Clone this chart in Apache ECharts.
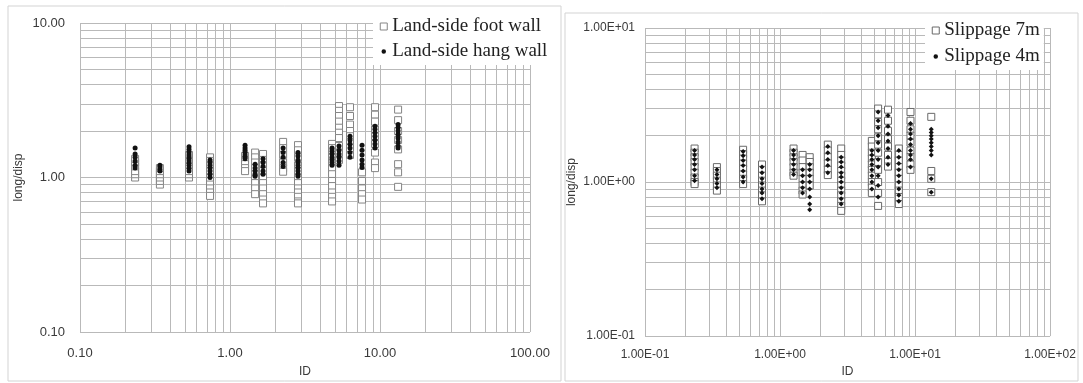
<!DOCTYPE html>
<html>
<head>
<meta charset="utf-8">
<title>long/disp vs ID</title>
<script src="https://cdn.jsdelivr.net/npm/echarts@6/dist/echarts.min.js"></script>
<style>
  html, body { margin: 0; padding: 0; background: #fff; }
  #chart { width: 1083px; height: 383px; }
</style>
</head>
<body>
<div id="chart"></div>
<script>
// ID positions shared by every series (one column of points per ID)
const idColumns = [0.233, 0.341, 0.533, 0.736, 1.26, 1.47, 1.66, 2.26, 2.84, 4.79, 5.33, 6.31, 7.59, 9.26, 13.2];

// long/disp values per column — left panel
const footWallRatios = [
  [1.00, 1.05, 1.10, 1.18, 1.25, 1.32],
  [0.90, 0.95, 1.00, 1.05, 1.10, 1.15],
  [1.00, 1.05, 1.10, 1.20, 1.30, 1.40],
  [1.35, 1.28, 1.20, 1.10, 1.00, 0.95, 0.90, 0.85, 0.80, 0.76],
  [1.38, 1.30, 1.22, 1.15, 1.10],
  [1.45, 1.35, 1.25, 1.15, 1.05, 0.98, 0.92, 0.85, 0.78],
  [1.42, 1.30, 1.20, 1.10, 1.00, 0.92, 0.85, 0.78, 0.72, 0.68],
  [1.70, 1.55, 1.40, 1.25, 1.15, 1.09],
  [1.62, 1.50, 1.35, 1.20, 1.10, 1.00, 0.92, 0.85, 0.80, 0.75, 0.70, 0.68],
  [1.65, 1.55, 1.45, 1.35, 1.25, 1.15, 1.05, 0.95, 0.88, 0.80, 0.75, 0.70],
  [2.90, 2.70, 2.50, 2.30, 2.10, 1.95, 1.80, 1.60, 1.45, 1.30],
  [2.85, 2.50, 2.20, 2.00, 1.85, 1.70, 1.55, 1.40],
  [1.08, 0.95, 0.85, 0.78, 0.72],
  [2.85, 2.55, 2.30, 2.05, 1.85, 1.65, 1.45, 1.25, 1.15],
  [2.75, 2.35, 2.00, 1.75, 1.52, 1.22, 1.08, 0.87]
];
const hangWallRatios = [
  [1.55, 1.42, 1.35, 1.28, 1.20, 1.15],
  [1.20, 1.17, 1.13, 1.10],
  [1.58, 1.52, 1.45, 1.40, 1.35, 1.30, 1.25, 1.20, 1.15, 1.10],
  [1.30, 1.25, 1.20, 1.15, 1.10, 1.05, 1.00],
  [1.62, 1.55, 1.50, 1.45, 1.40, 1.35, 1.32],
  [1.22, 1.15, 1.10, 1.05, 1.02],
  [1.32, 1.25, 1.18, 1.10, 1.05],
  [1.55, 1.45, 1.35, 1.25, 1.18],
  [1.45, 1.38, 1.30, 1.25, 1.20, 1.15, 1.10, 1.05, 1.02],
  [1.55, 1.48, 1.42, 1.35, 1.30, 1.25, 1.20],
  [1.60, 1.50, 1.42, 1.35, 1.28, 1.20],
  [1.85, 1.75, 1.65, 1.55, 1.45, 1.35],
  [1.62, 1.50, 1.40, 1.30, 1.22, 1.16],
  [2.15, 2.05, 1.95, 1.85, 1.75, 1.65, 1.55],
  [2.20, 2.10, 2.00, 1.90, 1.80, 1.70, 1.60, 1.55]
];

// long/disp values per column — right panel
const slip7mRatios = [
  [1.65, 1.55, 1.45, 1.35, 1.25, 1.15, 1.07, 1.00, 0.97],
  [1.25, 1.18, 1.10, 1.02, 0.95, 0.88],
  [1.62, 1.52, 1.42, 1.32, 1.22, 1.12, 1.05, 0.97],
  [1.30, 1.20, 1.10, 1.02, 0.95, 0.88, 0.82, 0.75],
  [1.65, 1.55, 1.45, 1.35, 1.25, 1.15, 1.10],
  [1.50, 1.38, 1.25, 1.15, 1.05, 0.95, 0.88, 0.83],
  [1.45, 1.35, 1.25, 1.15, 1.05, 0.95],
  [1.75, 1.60, 1.45, 1.32, 1.20, 1.11],
  [1.65, 1.50, 1.38, 1.28, 1.18, 1.10, 1.02, 0.95, 0.88, 0.82, 0.75, 0.70, 0.65],
  [1.85, 1.70, 1.55, 1.42, 1.30, 1.20, 1.10, 1.00, 0.92, 0.85],
  [3.00, 2.75, 2.45, 2.20, 1.95, 1.75, 1.55, 1.35, 1.20, 1.00, 0.85, 0.70],
  [2.95, 2.50, 2.15, 1.90, 1.70, 1.50, 1.35, 1.26],
  [1.65, 1.50, 1.38, 1.25, 1.15, 1.05, 0.95, 0.88, 0.80, 0.72],
  [2.85, 2.50, 2.20, 2.00, 1.80, 1.60, 1.45, 1.30, 1.20],
  [2.65, 1.18, 1.05, 0.86]
];
const slip4mRatios = [
  [1.60, 1.50, 1.40, 1.30, 1.20, 1.10, 1.02],
  [1.20, 1.12, 1.05, 0.98, 0.92],
  [1.58, 1.48, 1.38, 1.28, 1.18, 1.08, 1.00],
  [1.25, 1.15, 1.05, 0.98, 0.90, 0.85, 0.78],
  [1.60, 1.50, 1.40, 1.30, 1.20, 1.12],
  [1.20, 1.10, 1.00, 0.92, 0.85],
  [1.30, 1.20, 1.10, 1.00, 0.90, 0.80, 0.72, 0.66],
  [1.70, 1.55, 1.40, 1.28, 1.15],
  [1.45, 1.35, 1.25, 1.15, 1.08, 1.00, 0.92, 0.85, 0.78, 0.72],
  [1.60, 1.50, 1.40, 1.30, 1.20, 1.10, 1.00, 0.90],
  [2.85, 2.50, 2.25, 2.00, 1.80, 1.60, 1.40, 1.25, 1.10, 0.95, 0.80],
  [2.70, 2.30, 2.05, 1.85, 1.65, 1.45, 1.30],
  [1.60, 1.45, 1.32, 1.20, 1.10, 1.00, 0.90, 0.82, 0.75],
  [2.40, 2.20, 2.05, 1.90, 1.75, 1.60, 1.50, 1.40, 1.25],
  [2.20, 2.10, 2.00, 1.90, 1.80, 1.70, 1.60, 1.50, 1.05, 0.86]
];

const seriesNames = ['Land-side foot wall', 'Land-side hang wall', 'Slippage 7m', 'Slippage 4m'];

// [ID, long/disp] pairs from a per-column table
function toPoints(table) {
  const pts = [];
  idColumns.forEach((id, i) => table[i].forEach(v => pts.push([id, v])));
  return pts;
}

// 1..9 × 10^k log grid between two decades
function logGrid(minExp, maxExp) {
  const out = [];
  for (let e = minExp; e < maxExp; e++) {
    for (let m = 1; m <= 9; m++) out.push(+(m * Math.pow(10, e)).toPrecision(3));
  }
  out.push(Math.pow(10, maxExp));
  return out;
}

function sciLabel(v) {
  const e = Math.round(Math.log10(v));
  const mant = (v / Math.pow(10, e)).toFixed(2);
  return mant + 'E' + (e < 0 ? '-' : '+') + String(Math.abs(e)).padStart(2, '0');
}

const gridColor = '#b9b9b9';
const labelColor = '#3a3a3a';

function gridSeries(axisIdx) {
  return {
    type: 'scatter',
    xAxisIndex: axisIdx,
    yAxisIndex: axisIdx,
    data: [],
    silent: true,
    z: 1,
    markLine: {
      z: 1,
      silent: true,
      symbol: ['none', 'none'],
      label: { show: false },
      emphasis: { disabled: true },
      animation: false,
      lineStyle: { color: gridColor, width: 1, type: 'solid' },
      data: logGrid(-1, 2).map(v => ({ xAxis: v }))
        .concat(logGrid(-1, 1).map(v => ({ yAxis: v })))
    }
  };
}

function xAxisOpt(gridIndex, fmt, fontSize, margin, nameGap) {
  return {
    type: 'log', logBase: 10, gridIndex, min: 0.1, max: 100,
    axisLine: { show: false }, axisTick: { show: false }, splitLine: { show: false },
    axisLabel: { formatter: fmt, fontFamily: 'Liberation Sans', fontSize, color: labelColor, margin },
    name: 'ID', nameLocation: 'middle', nameGap,
    nameTextStyle: { fontFamily: 'Liberation Sans', fontSize: 12, color: labelColor }
  };
}
function yAxisOpt(gridIndex, fmt, fontSize, margin, nameGap) {
  return {
    type: 'log', logBase: 10, gridIndex, min: 0.1, max: 10,
    axisLine: { show: false }, axisTick: { show: false }, splitLine: { show: false },
    axisLabel: { formatter: fmt, fontFamily: 'Liberation Sans', fontSize, color: labelColor, margin },
    name: 'long/disp', nameLocation: 'middle', nameGap,
    nameTextStyle: { fontFamily: 'Liberation Sans', fontSize: 12, color: labelColor }
  };
}

function legendOpt(names, left, top, gap, squareBorder) {
  return {
    orient: 'vertical', left, top,
    z: 10,
    selectedMode: false,
    backgroundColor: '#fff',
    padding: [4, 4, 4, 6],
    itemGap: gap, itemWidth: 7, itemHeight: 7,
    textStyle: { fontFamily: 'Liberation Serif', fontSize: 19, lineHeight: 19, color: '#222' },
    data: [
      { name: names[0], icon: 'rect', itemStyle: { color: '#fff', borderColor: squareBorder, borderWidth: 1 } },
      { name: names[1], icon: 'circle', itemStyle: { color: '#111', borderColor: '#fff', borderWidth: 2.5 } }
    ]
  };
}

const fixed2 = v => Number(v).toFixed(2);

const chart = echarts.init(document.getElementById('chart'), null, { renderer: 'canvas' });
chart.setOption({
  animation: false,
  backgroundColor: '#fff',
  graphic: [
    { type: 'rect', shape: { x: 8, y: 6, width: 553, height: 375 }, style: { fill: 'none', stroke: '#d3d3d3', lineWidth: 1 }, silent: true },
    { type: 'rect', shape: { x: 565, y: 13, width: 513, height: 368 }, style: { fill: 'none', stroke: '#d3d3d3', lineWidth: 1 }, silent: true }
  ],
  grid: [
    { left: 80, top: 23, width: 450, height: 309 },
    { left: 645, top: 28, width: 405, height: 309 }
  ],
  xAxis: [
    xAxisOpt(0, fixed2, 13, 15, 34),
    xAxisOpt(1, sciLabel, 12, 13, 29)
  ],
  yAxis: [
    yAxisOpt(0, fixed2, 13, 15, 55),
    yAxisOpt(1, sciLabel, 12, 10, 67)
  ],
  legend: [
    legendOpt(seriesNames.slice(0, 2), 373, 13, 6, '#858585'),
    legendOpt(seriesNames.slice(2, 4), 925, 17, 7, '#6a6a6a')
  ],
  series: [
    gridSeries(0),
    {
      name: seriesNames[0], type: 'scatter', xAxisIndex: 0, yAxisIndex: 0, z: 3,
      symbol: 'rect', symbolSize: 7,
      itemStyle: { color: '#fff', borderColor: '#858585', borderWidth: 1, opacity: 1 },
      data: toPoints(footWallRatios)
    },
    {
      name: seriesNames[1], type: 'scatter', xAxisIndex: 0, yAxisIndex: 0, z: 4,
      symbol: 'circle', symbolSize: 5,
      itemStyle: { color: '#111', opacity: 1 },
      data: toPoints(hangWallRatios)
    },
    gridSeries(1),
    {
      name: seriesNames[2], type: 'scatter', xAxisIndex: 1, yAxisIndex: 1, z: 3,
      symbol: 'rect', symbolSize: 7,
      itemStyle: { color: '#fff', borderColor: '#6a6a6a', borderWidth: 1, opacity: 1 },
      data: toPoints(slip7mRatios)
    },
    {
      name: seriesNames[3], type: 'scatter', xAxisIndex: 1, yAxisIndex: 1, z: 4,
      symbol: 'diamond', symbolSize: 5,
      itemStyle: { color: '#111', opacity: 1 },
      data: toPoints(slip4mRatios)
    }
  ]
});
</script>
</body>
</html>
